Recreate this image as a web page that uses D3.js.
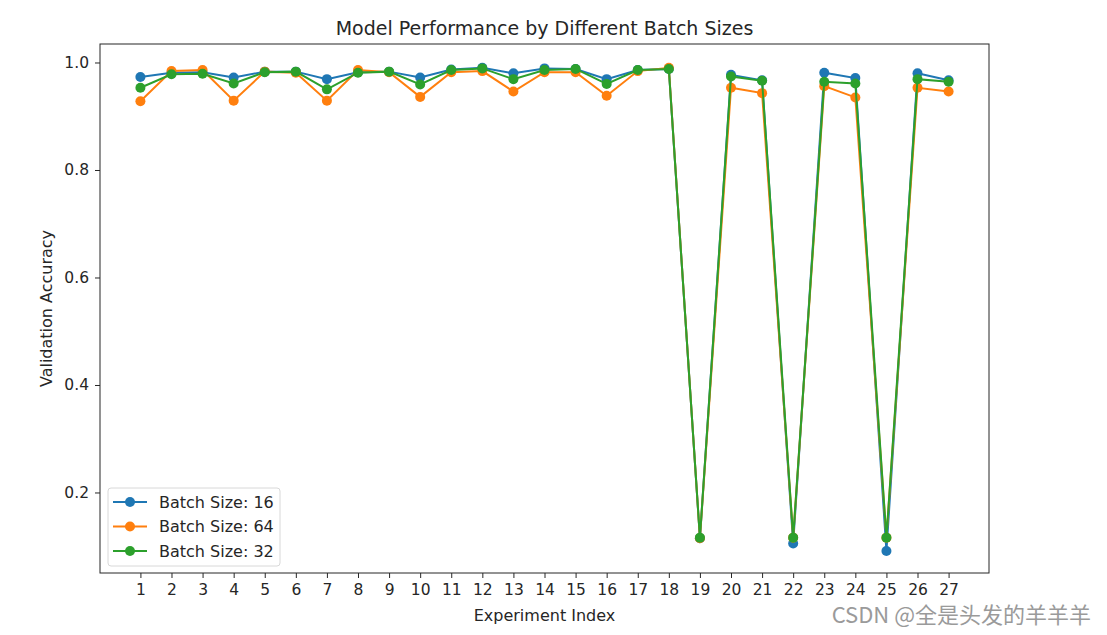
<!DOCTYPE html>
<html>
<head>
<meta charset="utf-8">
<title>Model Performance by Different Batch Sizes</title>
<style>
  body { margin: 0; background: #fff; }
  text { font-family: "DejaVu Sans", sans-serif; fill: #262626; }
</style>
</head>
<body>
<svg id="chart"></svg>
<script src="https://cdnjs.cloudflare.com/ajax/libs/d3/7.8.5/d3.min.js"></script>
<script>
// experiment index 1..27
var experiments = d3.range(1, 28);

var batch16 = [0.973, 0.981, 0.982, 0.972, 0.983, 0.983, 0.969, 0.982, 0.983,
  0.972, 0.987, 0.990, 0.980, 0.989, 0.988, 0.969, 0.986, 0.988,
  0.115, 0.977, 0.967, 0.105, 0.981, 0.971, 0.091, 0.980, 0.967];
var batch64 = [0.928, 0.984, 0.986, 0.929, 0.983, 0.981, 0.929, 0.986, 0.982,
  0.936, 0.982, 0.984, 0.946, 0.982, 0.982, 0.938, 0.984, 0.990,
  0.115, 0.953, 0.943, 0.116, 0.956, 0.935, 0.116, 0.953, 0.946];
var batch32 = [0.953, 0.978, 0.979, 0.961, 0.982, 0.983, 0.950, 0.981, 0.983,
  0.959, 0.986, 0.989, 0.969, 0.986, 0.988, 0.960, 0.986, 0.988,
  0.116, 0.974, 0.966, 0.116, 0.964, 0.961, 0.116, 0.969, 0.964];

var seriesNames = ['Batch Size: 16', 'Batch Size: 64', 'Batch Size: 32'];
var seriesColors = ['#1f77b4', '#ff7f0e', '#2ca02c'];
var yTicks = [0.2, 0.4, 0.6, 0.8, 1.0];

var width = 1107, height = 635;
var margin = {top: 44, right: 118, bottom: 62, left: 100};
var plotW = width - margin.left - margin.right;
var plotH = height - margin.top - margin.bottom;

var svg = d3.select('#chart').attr('width', width).attr('height', height);
var g = svg.append('g').attr('transform', 'translate(' + margin.left + ',' + margin.top + ')');

var x = d3.scaleLinear().domain([-0.3, 28.3]).range([0, plotW]);
var y = d3.scaleLinear().domain([0.0502, 1.0344]).range([plotH, 0]);

// axes
var xAxis = d3.axisBottom(x).tickValues(experiments).tickFormat(d3.format('d')).tickSize(5).tickPadding(6);
var yAxis = d3.axisLeft(y).tickValues(yTicks).tickFormat(d3.format('.1f')).tickSize(5).tickPadding(6);

var gx = g.append('g').attr('transform', 'translate(0,' + plotH + ')').call(xAxis);
var gy = g.append('g').call(yAxis);
[gx, gy].forEach(function(a) {
  a.select('.domain').remove();
  a.selectAll('.tick line').attr('stroke', '#262626').attr('stroke-width', 1);
  a.selectAll('.tick text').style('font-size', '15.5px').attr('fill', '#262626');
});

// frame
g.append('rect').attr('width', plotW).attr('height', plotH)
  .attr('fill', 'none').attr('stroke', '#262626').attr('stroke-width', 1);

var data = [batch16, batch64, batch32];
var line = d3.line().x(function(d, i) { return x(experiments[i]); }).y(function(d) { return y(d); });

data.forEach(function(vals, k) {
  var s = g.append('g');
  s.append('path').datum(vals).attr('d', line)
    .attr('fill', 'none').attr('stroke', seriesColors[k]).attr('stroke-width', 2);
  s.selectAll('circle').data(vals).enter().append('circle')
    .attr('cx', function(d, i) { return x(experiments[i]); })
    .attr('cy', function(d) { return y(d); })
    .attr('r', 5)
    .attr('fill', seriesColors[k]);
});

// legend
var lg = g.append('g').attr('transform', 'translate(8,' + (plotH - 85) + ')');
lg.append('rect').attr('width', 172).attr('height', 78).attr('rx', 3)
  .attr('fill', '#fff').attr('fill-opacity', 0.8).attr('stroke', '#d8d8d8');
seriesNames.forEach(function(name, k) {
  var row = lg.append('g').attr('transform', 'translate(0,' + (14 + k * 24.5) + ')');
  row.append('line').attr('x1', 5).attr('x2', 39).attr('stroke', seriesColors[k]).attr('stroke-width', 2);
  row.append('circle').attr('cx', 22).attr('r', 5).attr('fill', seriesColors[k]);
  row.append('text').attr('x', 51).attr('dy', '0.35em').style('font-size', '16px').text(name);
});

// titles
svg.append('text').attr('x', margin.left + plotW / 2).attr('y', 35)
  .attr('text-anchor', 'middle').style('font-size', '19px').text('Model Performance by Different Batch Sizes');
svg.append('text').attr('x', margin.left + plotW / 2).attr('y', 621)
  .attr('text-anchor', 'middle').style('font-size', '16px').text('Experiment Index');
svg.append('text').attr('transform', 'translate(52,' + (margin.top + plotH / 2) + ') rotate(-90)')
  .attr('text-anchor', 'middle').style('font-size', '16px').text('Validation Accuracy');

// watermark
svg.append('text').attr('x', 1091).attr('y', 623).attr('text-anchor', 'end')
  .style('font-family', '"Noto Sans CJK SC", sans-serif').style('font-size', '22px')
  .style('fill', '#9a9a9a').text('CSDN @全是头发的羊羊羊');
</script>
</body>
</html>
